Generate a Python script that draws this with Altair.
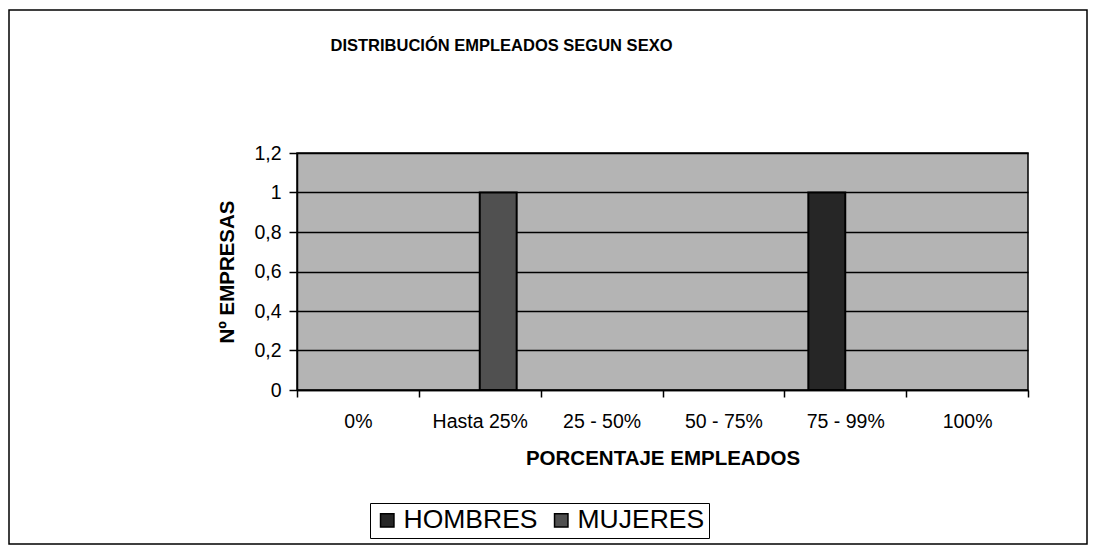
import altair as alt
import pandas as pd

categorias = ["0%", "Hasta 25%", "25 - 50%", "50 - 75%", "75 - 99%", "100%"]
series = ["HOMBRES", "MUJERES"]
hombres = [0, 0, 0, 0, 1, 0]
mujeres = [0, 1, 0, 0, 0, 0]
y_ticks = [0, 0.2, 0.4, 0.6, 0.8, 1.0, 1.2]
colores = ["#262626", "#505050"]

rows = []
for c, h, m in zip(categorias, hombres, mujeres):
    rows.append({"cat": c, "serie": "HOMBRES", "valor": h})
    rows.append({"cat": c, "serie": "MUJERES", "valor": m})
df = pd.DataFrame(rows)

FONT = "Liberation Sans"

bars = alt.Chart(df).transform_filter(alt.datum.valor > 0).mark_bar(
    stroke="black", strokeWidth=2
).encode(
    x=alt.X("cat:N", sort=categorias,
            scale=alt.Scale(domain=categorias, paddingInner=0, paddingOuter=0),
            axis=alt.Axis(title="PORCENTAJE EMPLEADOS", labelAngle=0, tickBand="extent",
                          tickSize=7, labelPadding=15, titlePadding=18,
                          titleFontSize=20.5, labelFontSize=19.5, domainWidth=1.5,
                          tickWidth=1.5)),
    xOffset=alt.XOffset("serie:N", scale=alt.Scale(domain=series, paddingOuter=0.65, paddingInner=0)),
    y=alt.Y("valor:Q", scale=alt.Scale(domain=[0, 1.2], nice=False),
            axis=alt.Axis(title="Nº EMPRESAS", values=y_ticks,
                          labelExpr="replace(format(datum.value, '~g'), '.', ',')",
                          tickSize=8, labelPadding=8, titlePadding=16,
                          titleFontSize=20.5, labelFontSize=19.5, grid=True,
                          gridColor="black", gridWidth=1.5, domainWidth=1.5,
                          tickWidth=1.5)),
    color=alt.Color("serie:N", scale=alt.Scale(domain=series, range=colores),
                    legend=alt.Legend(title=None, orient="none", legendX=73, legendY=350,
                                      direction="horizontal", symbolType="square",
                                      symbolSize=180, symbolStrokeColor="black",
                                      symbolStrokeWidth=1.5, labelFontSize=26.5,
                                      strokeColor="black", fillColor="white",
                                      padding=4, columnPadding=10, labelOffset=3)),
)

frame = alt.Chart(alt.Data(values=[{"a": 1}])).mark_rect(
    filled=False, stroke="black", strokeWidth=1.5
).encode(
    x=alt.value(-288), x2=alt.value(790), y=alt.value(-143), y2=alt.value(391)
)

chart = alt.layer(frame, bars).properties(
    width=731, height=237,
    autosize=alt.AutoSizeParams(type="none"),
    padding={"left": 289, "top": 145, "right": 60, "bottom": 155},
    background="white",
    title=alt.TitleParams("DISTRIBUCIÓN EMPLEADOS SEGUN SEXO", anchor="middle",
                          dx=-161, offset=-45, frame="group", fontSize=16.5,
                          font=FONT, fontWeight="bold", color="black"),
).configure_view(
    fill="#b4b4b4", stroke="black", strokeWidth=1.5
).configure_axis(
    labelFont=FONT, titleFont=FONT, labelColor="black", titleColor="black",
    domainColor="black", tickColor="black", titleFontWeight="bold"
).configure_legend(
    labelFont=FONT, labelColor="black"
)

chart.save("out.html", embed_options={"renderer": "svg", "actions": False})
